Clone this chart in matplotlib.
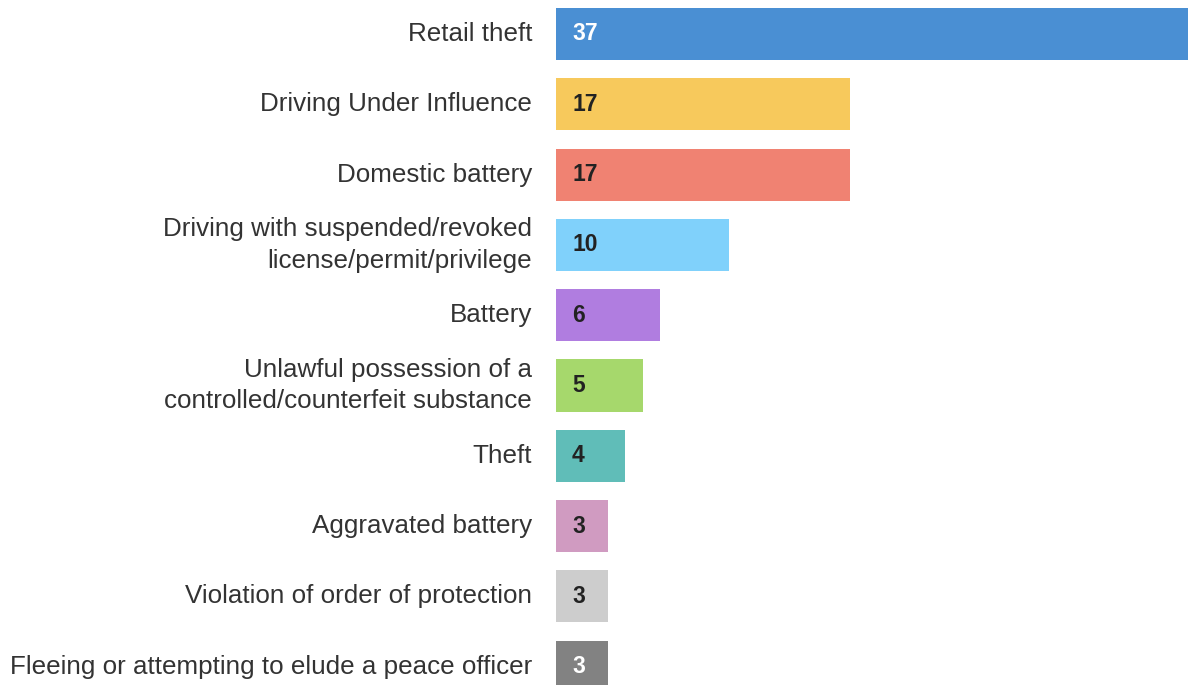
import matplotlib.pyplot as plt

categories = [
    "Retail theft",
    "Driving Under Influence",
    "Domestic battery",
    "Driving with suspended/revoked\nlicense/permit/privilege",
    "Battery",
    "Unlawful possession of a\ncontrolled/counterfeit substance",
    "Theft",
    "Aggravated battery",
    "Violation of order of protection",
    "Fleeing or attempting to elude a peace officer",
]
counts = [37, 17, 17, 10, 6, 5, 4, 3, 3, 3]
colors = ["#4a8fd3", "#f7c95c", "#f08272", "#80d1fb", "#b07de0",
          "#a6d86c", "#60bdb8", "#d09bc1", "#cdcdcd", "#828282"]
value_colors = ["white", "#222222", "#222222", "#222222", "#222222",
                "#222222", "#222222", "#222222", "#222222", "white"]

plt.rcParams["font.family"] = ["Liberation Sans", "DejaVu Sans"]

W, H = 1188, 685
fig = plt.figure(figsize=(W / 100, H / 100), dpi=100)
left_px = 556
ax = fig.add_axes([left_px / W, 0, 1 - left_px / W, 1])

px_per_unit = 17.3
ax.set_xlim(0, (W - left_px) / px_per_unit)
step = 70.3
first = 34
ax.set_ylim((H - first) / step, -first / step)

ypos = list(range(len(categories)))
ax.barh(ypos, counts, height=0.74, color=colors, clip_on=False)

for y, c, v, tc in zip(ypos, categories, counts, value_colors):
    ax.text(-24 / px_per_unit, y, c, ha="right", va="center",
            fontsize=18.7, color="#333333", linespacing=1.4)
    ax.text(16 / px_per_unit, y, str(v), ha="left", va="center",
            fontsize=16.5, fontweight="bold", color=tc)

ax.axis("off")
fig.savefig("out.png", dpi=100)
